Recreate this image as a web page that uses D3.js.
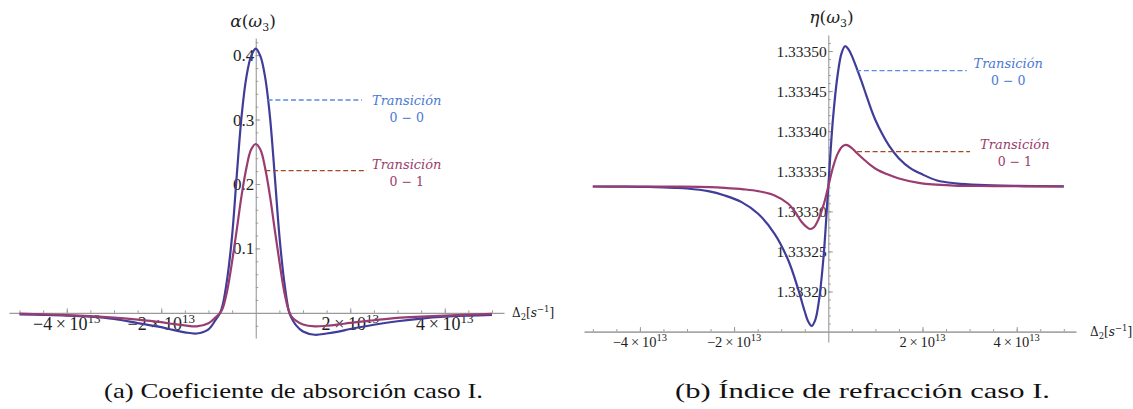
<!DOCTYPE html>
<html><head><meta charset="utf-8">
<script src="https://cdn.jsdelivr.net/npm/d3@7"></script>
<style>body{margin:0;background:#fff}svg{display:block}
.tm{font-family:'Liberation Serif','Times New Roman',serif}
.mm{font-family:'DejaVu Serif',serif}
</style>
</head><body><svg id="c" width="1133" height="409"></svg>
<script>
// ---------- DATA (x in units of 10^13 s^-1) ----------
const alphaX   = [-5,-4.5,-4,-3.5,-3,-2.5,-2,-1.75,-1.5,-1.25,-1.0,-0.85,-0.75,-0.7,-0.6,-0.5,-0.4,-0.3,-0.2,-0.1,0,0.1,0.2,0.3,0.4,0.5,0.6,0.7,0.75,0.85,1.0,1.25,1.5,1.75,2,2.5,3,3.5,4,4.5,5];
const alpha00  = [-0.0025,-0.0032,-0.0042,-0.006,-0.0095,-0.0158,-0.0222,-0.0265,-0.0302,-0.032,-0.0255,-0.0110,0.0005,0.012,0.055,0.12,0.215,0.305,0.365,0.398,0.41,0.398,0.365,0.305,0.215,0.12,0.05,0.003,-0.007,-0.019,-0.029,-0.034,-0.032,-0.029,-0.025,-0.0185,-0.013,-0.0088,-0.006,-0.0043,-0.003];
const alpha01  = [-0.0012,-0.0022,-0.0035,-0.0052,-0.0075,-0.0105,-0.0145,-0.0172,-0.0195,-0.021,-0.0162,-0.0070,0.0005,0.007,0.036,0.08,0.13,0.182,0.224,0.253,0.262,0.253,0.224,0.182,0.13,0.08,0.034,0.003,-0.005,-0.012,-0.018,-0.021,-0.020,-0.018,-0.0156,-0.0115,-0.0078,-0.0058,-0.0042,-0.0028,-0.0016];

const eta00X = [-5,-4.5,-4,-3.5,-3.26,-3,-2.55,-2.2,-1.84,-1.49,-1.14,-0.85,-0.64,-0.5,-0.43,-0.355,-0.28,-0.2,-0.1,0,0.1,0.2,0.28,0.355,0.43,0.5,0.6,0.7,0.8,0.9,1.0,1.14,1.3,1.5,1.74,2.0,2.31,2.7,3.2,4,5];
const eta00  = [1.3333310,1.3333308,1.3333306,1.3333300,1.3333294,1.3333285,1.3333252,1.3333198,1.3333115,1.3332970,1.3332720,1.3332390,1.3332030,1.3331750,1.3331630,1.3331570,1.3331640,1.3331880,1.3332440,1.3333310,1.3334160,1.3334710,1.3334970,1.3335060,1.3335020,1.3334940,1.3334790,1.3334630,1.3334460,1.3334290,1.3334140,1.3333970,1.3333810,1.3333660,1.3333540,1.3333460,1.3333385,1.3333350,1.3333330,1.3333318,1.3333312];
const eta01X = [-5,-4,-3.26,-2.5,-2.2,-1.8,-1.49,-1.14,-0.85,-0.7,-0.57,-0.45,-0.38,-0.3,-0.21,-0.1,0,0.1,0.2,0.3,0.38,0.5,0.6,0.75,0.89,1.05,1.24,1.5,1.95,2.66,3.5,5];
const eta01  = [1.3333310,1.3333310,1.3333308,1.3333302,1.3333293,1.3333275,1.3333252,1.3333198,1.3333095,1.3332990,1.3332870,1.3332800,1.3332780,1.3332805,1.3332900,1.3333080,1.3333310,1.3333550,1.3333720,1.3333810,1.3333830,1.3333790,1.3333730,1.3333650,1.3333580,1.3333515,1.3333465,1.3333410,1.3333351,1.3333322,1.3333315,1.3333310];

const xMajor = [-4,-2,2,4];
const xTickMant = ["\u22124","\u22122","2","4"];
const xTickExp = "13";
const alphaTicks = [0.1,0.2,0.3,0.4];
const alphaTickLabels = ["0.1","0.2","0.3","0.4"];
const etaTicks = [1.33320,1.33325,1.33330,1.33335,1.33340,1.33345,1.33350];
const etaTickLabels = ["1.33320","1.33325","1.33330","1.33335","1.33340","1.33345","1.33350"];

const C00 = "#3f3d99", C01 = "#993d71";
const TXT00 = "#4a78d4", TXT01 = "#9a3c6c";
const DASH00 = "#5a8be0", DASH01 = "#a3481f";
const AX = "#9a9a9a";

const svg = d3.select("#c");
svg.append("rect").attr("width",1133).attr("height",409).attr("fill","#fff");

function minorSteps(a,b,s){const r=[];for(let v=a;v<=b+1e-12;v+=s)r.push(+v.toFixed(10));return r;}

// ---------- LEFT CHART ----------
const xL = d3.scaleLinear().domain([-5,5]).range([19.5,492]);
const yL = d3.scaleLinear().domain([-0.039,0.4265]).range([338,38]);

const xAxL = xL.copy().domain([xL.invert(9), xL.invert(504)]).range([9,504]);
const gxL = svg.append("g").attr("transform",`translate(0,${yL(0)})`);
gxL.call(d3.axisBottom(xAxL).tickValues(minorSteps(-5,5,0.5).filter(v=>v!==0)).tickSizeInner(-2.5).tickSizeOuter(0).tickFormat(""));
const gxL2 = svg.append("g").attr("transform",`translate(0,${yL(0)})`);
gxL2.call(d3.axisBottom(xAxL).tickValues(xMajor).tickSizeInner(-4.5).tickSizeOuter(0).tickFormat(""));
gxL2.select(".domain").remove();

const gyL = svg.append("g").attr("transform",`translate(${xL(0)},0)`);
gyL.call(d3.axisRight(yL).tickValues(minorSteps(-0.02,0.42,0.02).filter(v=>Math.abs(v)>1e-9)).tickSizeInner(2.5).tickSizeOuter(0).tickFormat(""));
const gyL2 = svg.append("g").attr("transform",`translate(${xL(0)},0)`);
gyL2.call(d3.axisRight(yL).tickValues(alphaTicks).tickSizeInner(4.5).tickSizeOuter(0).tickFormat(""));
gyL2.select(".domain").remove();

// ---------- RIGHT CHART ----------
const xR = d3.scaleLinear().domain([-5,5]).range([592.8,1063.8]);
const yR = d3.scaleLinear().domain([1.333137,1.33352]).range([342,35]);
const xAxR = xR.copy().domain([xR.invert(584), xR.invert(1076)]).range([584,1076]);
const gxR = svg.append("g").attr("transform",`translate(0,${yR(1.33315)})`);
gxR.call(d3.axisBottom(xAxR).tickValues(minorSteps(-5,5,0.5).filter(v=>v!==0)).tickSizeInner(-2.5).tickSizeOuter(0).tickFormat(""));
const gxR2 = svg.append("g").attr("transform",`translate(0,${yR(1.33315)})`);
gxR2.call(d3.axisBottom(xAxR).tickValues(xMajor).tickSizeInner(-4.5).tickSizeOuter(0).tickFormat(""));
gxR2.select(".domain").remove();

const gyR = svg.append("g").attr("transform",`translate(${xR(0)},0)`);
gyR.call(d3.axisRight(yR).tickValues(minorSteps(1.33316,1.33351,0.00001)).tickSizeInner(2.5).tickSizeOuter(0).tickFormat(""));
const gyR2 = svg.append("g").attr("transform",`translate(${xR(0)},0)`);
gyR2.call(d3.axisRight(yR).tickValues(etaTicks).tickSizeInner(4.5).tickSizeOuter(0).tickFormat(""));
gyR2.select(".domain").remove();

svg.selectAll(".domain").attr("stroke",AX).attr("stroke-width",1.1);
gxR.select(".domain").attr("stroke-width",1.8).attr("stroke","#a8a8a8");
svg.selectAll(".tick line").attr("stroke",AX).attr("stroke-width",1);

// ---------- TICK LABELS ----------
function sciLabel(x,y,mant,exp,fs,sfs,raise){
  const t = svg.append("text").attr("class","tm").attr("x",x).attr("y",y).attr("text-anchor","middle")
    .attr("font-size",fs).attr("fill","#1e1e1e");
  t.append("tspan").text(mant+"\u2009\u00d7\u200910");
  t.append("tspan").attr("dy",-raise).attr("font-size",sfs).text(exp);
}
xMajor.forEach((v,i)=>sciLabel(xL(v),yL(0)+17,xTickMant[i],xTickExp,18,13,7));
xMajor.forEach((v,i)=>sciLabel(xR(v),yR(1.33315)+15.5,xTickMant[i],xTickExp,14.5,10.5,6));

alphaTicks.forEach((v,i)=>svg.append("text").attr("class","tm").attr("x",xL(0)-1.5).attr("y",yL(v)+6)
  .attr("text-anchor","end").attr("font-size",17).attr("fill","#1e1e1e").text(alphaTickLabels[i]));
etaTicks.forEach((v,i)=>svg.append("text").attr("class","tm").attr("x",xR(0)-1.5).attr("y",yR(v)+5.5)
  .attr("text-anchor","end").attr("font-size",15.5).attr("fill","#1e1e1e").text(etaTickLabels[i]));

// axis titles
function funcLabel(cx,y,sym){
  const t = svg.append("text").attr("class","mm").attr("x",cx).attr("y",y).attr("text-anchor","middle")
    .attr("font-size",17).attr("fill","#1e1e1e");
  t.append("tspan").attr("font-style","italic").text(sym);
  t.append("tspan").text("(");
  t.append("tspan").attr("font-style","italic").text("\u03c9");
  t.append("tspan").attr("font-size",11).attr("dy",4).text("3");
  t.append("tspan").attr("dy",-4).text(")");
}
funcLabel(253,27,"\u03b1");
funcLabel(831.5,23,"\u03b7");

function deltaLabel(x,y){
  const t = svg.append("text").attr("class","mm").attr("x",x).attr("y",y).attr("font-size",12).attr("fill","#1e1e1e");
  t.append("tspan").text("\u0394");
  t.append("tspan").attr("font-size",8.5).attr("dy",3).text("2");
  t.append("tspan").attr("dy",-3).text("[");
  t.append("tspan").attr("font-style","italic").text("s");
  t.append("tspan").attr("font-size",8.5).attr("dy",-5).text("\u22121");
  t.append("tspan").attr("dy",5).text("]");
}
deltaLabel(512,yL(0)+4.5);
deltaLabel(1090,yR(1.33315)+4.5);

// ---------- CURVES ----------
const lineL = d3.line().x(d=>xL(d[0])).y(d=>yL(d[1])).curve(d3.curveCatmullRom.alpha(0.5));
const lineR = d3.line().x(d=>xR(d[0])).y(d=>yR(d[1])).curve(d3.curveCatmullRom.alpha(0.5));
svg.append("path").datum(alphaX.map((x,i)=>[x,alpha00[i]])).attr("d",lineL).attr("fill","none").attr("stroke",C00).attr("stroke-width",2.2);
svg.append("path").datum(alphaX.map((x,i)=>[x,alpha01[i]])).attr("d",lineL).attr("fill","none").attr("stroke",C01).attr("stroke-width",2.2);
svg.append("path").datum(eta00X.map((x,i)=>[x,eta00[i]])).attr("d",lineR).attr("fill","none").attr("stroke",C00).attr("stroke-width",2.2);
svg.append("path").datum(eta01X.map((x,i)=>[x,eta01[i]])).attr("d",lineR).attr("fill","none").attr("stroke",C01).attr("stroke-width",2.2);

// ---------- ANNOTATIONS ----------
function annot(xs,ys,x0,x1,yv,tx,ty1,ty2,dashC,txtC,num){
  svg.append("line").attr("x1",xs(x0)).attr("x2",xs(x1)).attr("y1",ys(yv)).attr("y2",ys(yv))
    .attr("stroke",dashC).attr("stroke-width",1.3).attr("stroke-dasharray","5,2.8");
  svg.append("text").attr("class","mm").attr("x",xs(tx)).attr("y",ys(ty1)).attr("text-anchor","middle")
    .attr("font-style","italic").attr("font-size",13).attr("fill",txtC).text("Transición");
  svg.append("text").attr("class","mm").attr("x",xs(tx)).attr("y",ys(ty2)).attr("text-anchor","middle")
    .attr("font-size",12.5).attr("fill",txtC).text(num);
}
annot(xL,yL,0.25,2.25,0.3303,3.195,0.3224,0.2960,DASH00,TXT00,"0 \u2212 0");
annot(xL,yL,0.2,2.35,0.2206,3.195,0.2233,0.1970,DASH01,TXT01,"0 \u2212 1");
annot(xR,yR,0.59,2.94,1.3334755,3.82,1.3334788,1.3334576,DASH00,TXT00,"0 \u2212 0");
annot(xR,yR,0.61,3.01,1.3333744,3.96,1.3333784,1.3333566,DASH01,TXT01,"0 \u2212 1");

// ---------- CAPTIONS ----------
svg.append("text").attr("class","tm").attr("x",104).attr("y",398).attr("font-size",21.5).attr("fill","#111")
  .attr("textLength",379).attr("lengthAdjust","spacingAndGlyphs").text("(a) Coeficiente de absorción caso I.");
svg.append("text").attr("class","tm").attr("x",675).attr("y",398).attr("font-size",21.5).attr("fill","#111")
  .attr("textLength",375).attr("lengthAdjust","spacingAndGlyphs").text("(b) Índice de refracción caso I.");
</script></body></html>
